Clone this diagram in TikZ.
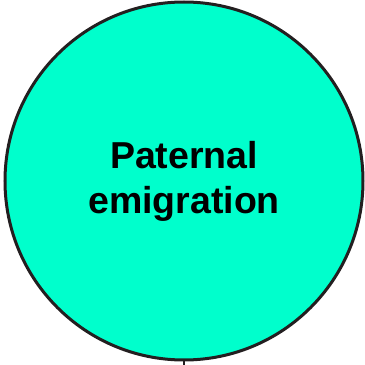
\documentclass[tikz,border=0pt]{standalone}
\usepackage{fontspec}
\setmainfont{Liberation Sans}
\definecolor{aqua}{HTML}{00FFCC}
\definecolor{rim}{HTML}{231F20}
\begin{document}
\begin{tikzpicture}[x=1pt,y=1pt,
  bubble/.style={circle,draw=rim,line width=3pt,fill=aqua,minimum size=358pt,inner sep=0pt,
    font=\fontsize{37.5}{45}\selectfont\bfseries,align=center,text=black}]
\useasboundingbox (0,0) rectangle (365,365);
\node[bubble] (c) at (184,184) {Paternal\\emigration};
\coordinate (stub) at (184,0);
\draw[rim,line width=2pt] (c.south) -- (stub);
\end{tikzpicture}
\end{document}
